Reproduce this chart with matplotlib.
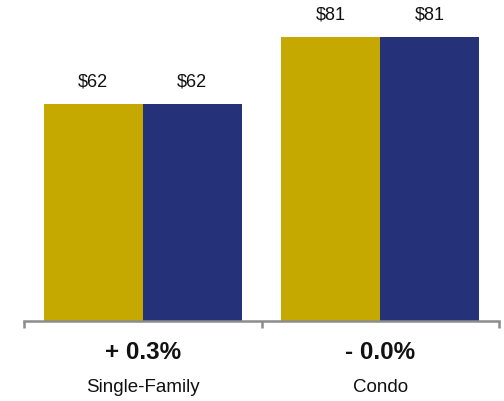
import matplotlib
matplotlib.use("Agg")
import matplotlib.pyplot as plt
import numpy as np

categories = ["Single-Family", "Condo"]
prior_values = [62, 81]
current_values = [62, 81]
change_labels = ["+ 0.3%", "- 0.0%"]
value_labels_prior = ["$62", "$81"]
value_labels_current = ["$62", "$81"]

gold = "#C5A800"
navy = "#25327A"
axis_gray = "#8C8C8C"

plt.rcParams["font.family"] = ["Liberation Sans", "DejaVu Sans"]

fig = plt.figure(figsize=(5.04, 4.01), dpi=100)
W, H = 504, 401
ax = fig.add_axes([24 / W, (H - 321) / H, 475 / W, 321 / H])

x = np.arange(len(categories))
bw = 0.416
b1 = ax.bar(x - bw / 2, prior_values, width=bw, color=gold, linewidth=0)
b2 = ax.bar(x + bw / 2, current_values, width=bw, color=navy, linewidth=0)

ax.set_xlim(-0.5, 1.5)
ax.set_ylim(0, 91.7)

for bars, labels in ((b1, value_labels_prior), (b2, value_labels_current)):
    for rect, lab in zip(bars, labels):
        ax.text(rect.get_x() + rect.get_width() / 2, rect.get_height() + 6.3, lab,
                ha="center", va="center", fontsize=13, color="#111111")

for xi, chg, cat in zip(x, change_labels, categories):
    ax.text(xi, -8.9, chg, ha="center", va="center", fontsize=17.5,
            fontweight="bold", color="#111111", clip_on=False)
    ax.text(xi, -19.0, cat, ha="center", va="center", fontsize=13.5,
            color="#111111", clip_on=False)

for side in ("top", "right", "left"):
    ax.spines[side].set_visible(False)
ax.spines["bottom"].set_color(axis_gray)
ax.spines["bottom"].set_linewidth(1.8)
ax.set_yticks([])
ax.set_xticks([-0.5, 0.5, 1.5])
ax.set_xticklabels([])
ax.tick_params(axis="x", direction="out", length=5, width=1.8, color=axis_gray)

fig.savefig("out.png", dpi=100)
